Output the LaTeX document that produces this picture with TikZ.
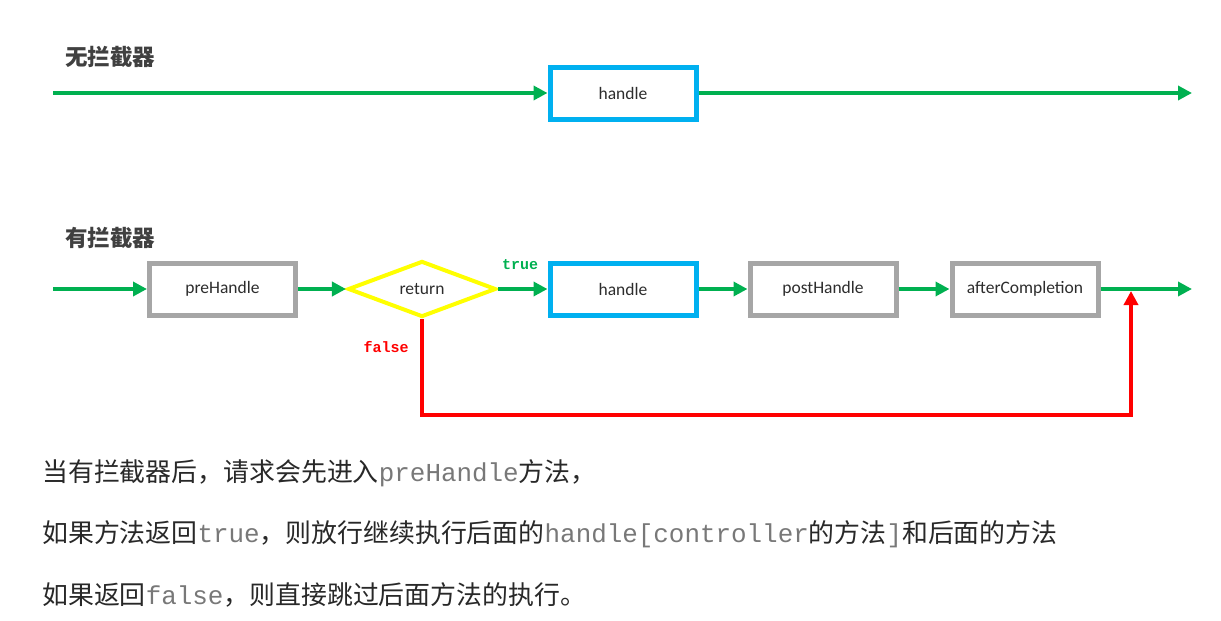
\documentclass[tikz,border=0pt]{standalone}
\usepackage{fontspec}
\setmainfont{Carlito}
\newfontfamily\cjk{Noto Sans CJK SC}
\newfontfamily\mono{Liberation Mono}
\usetikzlibrary{arrows.meta,shapes.geometric,shadows}
\definecolor{cgreen}{RGB}{0,176,80}
\definecolor{cblue}{RGB}{0,176,240}
\definecolor{cgray}{RGB}{166,166,166}
\definecolor{cyellow}{RGB}{255,255,0}
\definecolor{cred}{RGB}{255,0,0}
\definecolor{titlegray}{RGB}{64,64,64}
\definecolor{bodytext}{RGB}{40,40,40}
\definecolor{codegray}{RGB}{120,120,120}
\definecolor{labeltext}{RGB}{45,45,45}
\newcommand{\cd}[1]{{\mono\color{codegray}#1}}
\begin{document}
\begin{tikzpicture}[x=1pt,y=-1pt,
  flow/.style={line width=4pt, draw=cgreen, -{Triangle[length=14pt,width=14pt]}},
  redline/.style={line width=4pt, draw=cred, -{Triangle[length=14pt,width=14pt]}},
  procbox/.style={rectangle, draw=cgray, line width=5pt, fill=white, minimum width=146pt, minimum height=52pt, inner sep=0pt, font=\fontsize{17.5}{21}\selectfont, text=labeltext,
    drop shadow={shadow xshift=2pt, shadow yshift=-2pt, opacity=0.25, fill=black}},
  handlebox/.style={procbox, draw=cblue},
  dia/.style={diamond, draw=cyellow, line width=4pt, fill=white, minimum width=148pt, minimum height=56pt, inner sep=0pt, font=\fontsize{17.5}{21}\selectfont, text=labeltext},
  titletext/.style={font=\cjk\bfseries\fontsize{22.5}{27}\selectfont, text=titlegray, inner sep=0pt},
  body/.style={font=\cjk\fontsize{25.9}{30}\selectfont, text=bodytext, inner sep=0pt, anchor=base west},
  truelab/.style={font=\mono\bfseries\fontsize{15}{18}\selectfont, text=cgreen, inner sep=0pt},
  falselab/.style={font=\mono\bfseries\fontsize{15}{18}\selectfont, text=cred, inner sep=0pt}
]
\useasboundingbox (0,0) rectangle (1221,621);

% ---- without interceptor
\node[titletext, anchor=west] (t1) at (65,57) {无拦截器};
\coordinate (s1) at (53,93);
\node[handlebox] (h1) at (623,93) {handle};
\coordinate (e1) at (1192,93);
\draw[flow] (s1) -- (h1);
\draw[flow] (h1) -- (e1);

% ---- with interceptor
\node[titletext, anchor=west] (t2) at (65,238) {有拦截器};
\coordinate (s2) at (53,289);
\node[procbox] (pre) at (222.5,289) {preHandle};
\node[dia] (ret) at (422,289) {return};
\node[handlebox] (h2) at (623,289) {handle};
\node[procbox] (post) at (823,289) {postHandle};
\node[procbox] (after) at (1025,289) {afterCompletion};
\coordinate (e2) at (1192,289);
\coordinate (m) at (1131,291);
\coordinate (bl) at (422,415);
\coordinate (br) at (1131,415);

\draw[redline] (ret.south) -- (bl) -- (br) -- (m);
\draw[flow] (s2) -- (pre);
\draw[flow] (pre) -- (ret);
\draw[flow] (ret) -- (h2);
\draw[flow] (h2) -- (post);
\draw[flow] (post) -- (after);
\draw[flow] (after) -- (e2);

\node[truelab] (tl) at (520,265) {true};
\node[falselab] (fl) at (386,347) {false};

% ---- explanation text
\node[body] (l1) at (42,481) {当有拦截器后，请求会先进入\cd{preHandle}方法，};
\node[body] (l2) at (42,542) {如果方法返回\cd{true}，则放行继续执行后面的\cd{handle[controller}的方法\cd{]}和后面的方法};
\node[body] (l3) at (42,604) {如果返回\cd{false}，则直接跳过后面方法的执行。};
\end{tikzpicture}
\end{document}
